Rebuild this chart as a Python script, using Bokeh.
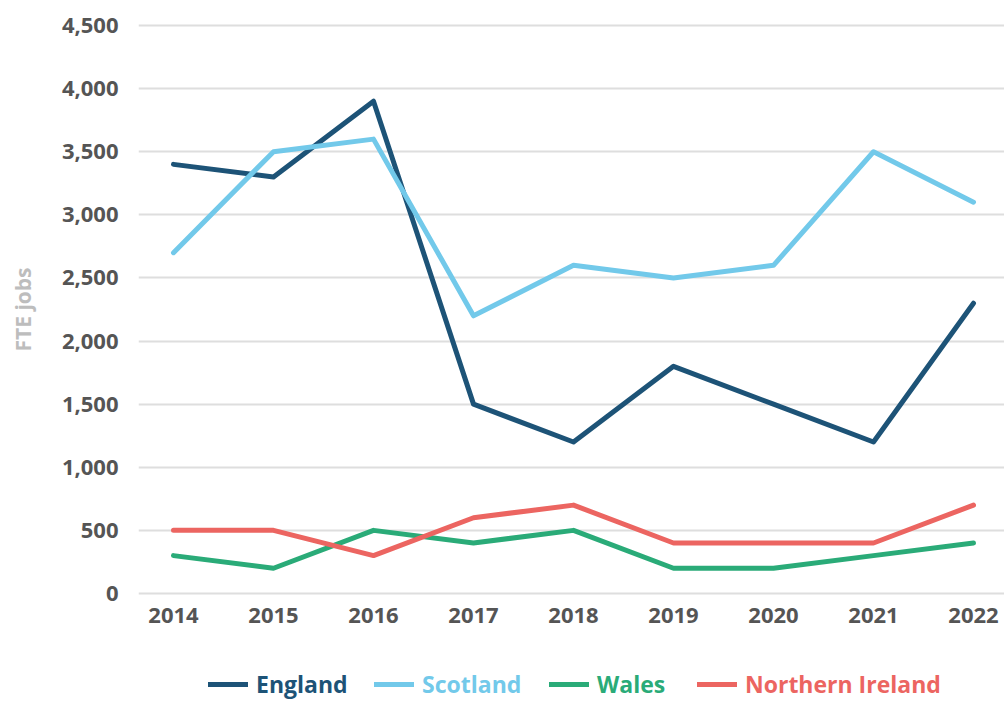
from bokeh.plotting import figure
from bokeh.layouts import column
from bokeh.models import Legend, LegendItem, Range1d, FixedTicker, NumeralTickFormatter
from bokeh.embed import file_html
from bokeh.resources import INLINE

years = [2014, 2015, 2016, 2017, 2018, 2019, 2020, 2021, 2022]
england = [3400, 3300, 3900, 1500, 1200, 1800, 1500, 1200, 2300]
scotland = [2700, 3500, 3600, 2200, 2600, 2500, 2600, 3500, 3100]
wales = [300, 200, 500, 400, 500, 200, 200, 300, 400]
n_ireland = [500, 500, 300, 600, 700, 400, 400, 400, 700]
y_ticks = [0, 500, 1000, 1500, 2000, 2500, 3000, 3500, 4000, 4500]

series = [
    ("England", england, "#1d5377"),
    ("Scotland", scotland, "#72c9ea"),
    ("Wales", wales, "#2aab78"),
    ("Northern Ireland", n_ireland, "#ec6561"),
]

FONT = "Open Sans"

p = figure(width=1004, height=650, output_backend="svg", toolbar_location=None,
           x_range=Range1d(2013.65, 2022.31), y_range=Range1d(-24, 4524),
           min_border_left=138, min_border_right=0, min_border_top=22, min_border_bottom=54)
p.outline_line_color = None
p.background_fill_color = "white"
p.border_fill_color = "white"

for name, vals, col in series:
    p.line(years, vals, line_color=col, line_width=5, line_join="round", line_cap="round")

p.xaxis.ticker = FixedTicker(ticks=years)
p.yaxis.ticker = FixedTicker(ticks=y_ticks)
p.yaxis.formatter = NumeralTickFormatter(format="0,0")
for ax in (p.xaxis[0], p.yaxis[0]):
    ax.axis_line_color = None
    ax.major_tick_line_color = None
    ax.minor_tick_line_color = None
    ax.major_label_text_font = FONT
    ax.major_label_text_font_style = "bold"
    ax.major_label_text_font_size = "22px"
    ax.major_label_text_color = "#555555"
p.yaxis.major_label_standoff = 14
p.xaxis.major_label_standoff = 5
p.yaxis.axis_label = "FTE jobs"
p.yaxis.axis_label_text_font = FONT
p.yaxis.axis_label_text_font_style = "bold"
p.yaxis.axis_label_text_font_size = "21px"
p.yaxis.axis_label_text_color = "#bdbdbd"
p.yaxis.axis_label_standoff = 22

p.xgrid.grid_line_color = None
p.ygrid.grid_line_color = "#dedede"
p.ygrid.grid_line_width = 2

# legend strip (separate panel so coloured labels can sit below the axis)
lg = figure(width=1004, height=51, output_backend="svg", toolbar_location=None,
            x_range=Range1d(0, 1), y_range=Range1d(0, 1),
            min_border_left=0, min_border_right=0, min_border_top=0, min_border_bottom=0)
lg.axis.visible = False
lg.grid.visible = False
lg.outline_line_color = None
lg.border_fill_color = "white"

xs = [70, 236, 411, 559]
for (name, vals, col), x in zip(series, xs):
    r = lg.line(years, vals, line_color=col, line_width=5, line_cap="round")
    leg = Legend(items=[LegendItem(label=name, renderers=[r])], location=(x, 1),
                 orientation="horizontal", padding=0, margin=0, spacing=0,
                 glyph_width=40, glyph_height=24, label_height=24, label_standoff=8,
                 label_text_font=FONT, label_text_font_style="bold",
                 label_text_font_size="23px", label_text_color=col,
                 border_line_color=None, background_fill_alpha=0)
    lg.add_layout(leg, "center")

layout = column(p, lg, spacing=0)
open("out.html", "w").write(file_html(layout, INLINE))
